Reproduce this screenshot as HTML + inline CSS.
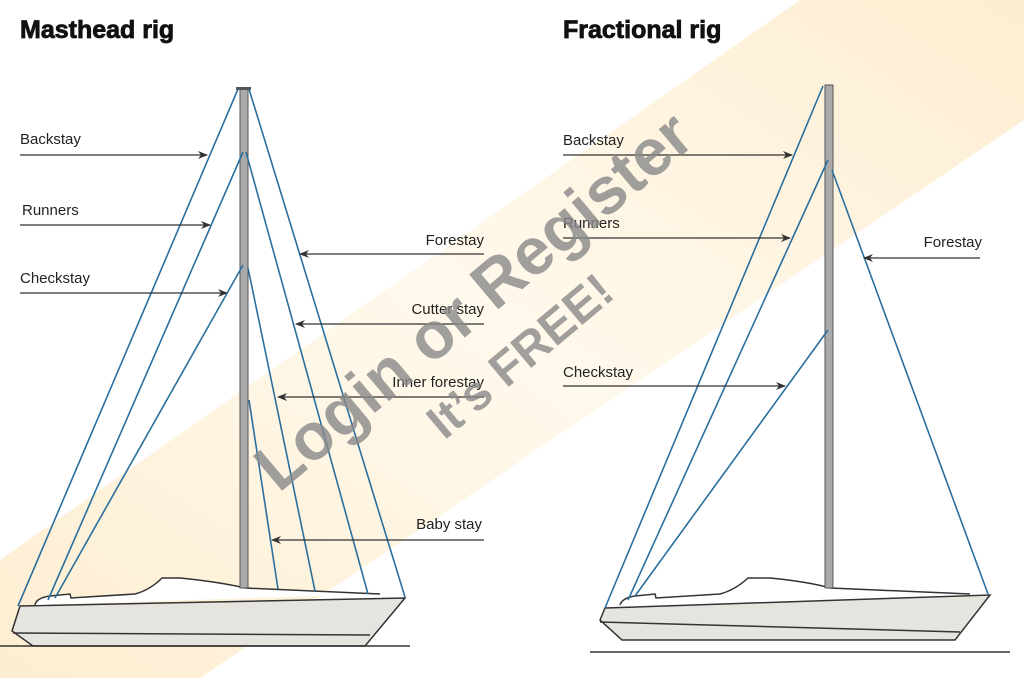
<!DOCTYPE html>
<html><head><meta charset="utf-8"><style>
html,body{margin:0;padding:0;background:#fff;}
body{width:1024px;height:678px;overflow:hidden;position:relative;font-family:"Liberation Sans",sans-serif;}
svg{position:absolute;left:0;top:0;}
</style></head><body>
<svg width="1024" height="678" viewBox="0 0 1024 678">
<defs>
<linearGradient id="band" x1="0" y1="1" x2="1" y2="0">
<stop offset="0" stop-color="#fdeccc"/><stop offset="0.5" stop-color="#fff8ea"/><stop offset="1" stop-color="#fdeccc"/>
</linearGradient>
<marker id="ah" markerWidth="10" markerHeight="8" refX="9" refY="4" orient="auto" markerUnits="userSpaceOnUse">
<path d="M0,0 L10,4 L0,8 L3,4 Z" fill="#333"/></marker>
</defs>
<!-- watermark band -->
<polygon points="0,560 0,678 200,678 1024,120 1024,0 800,0" fill="url(#band)" opacity="0.9"/>

<text x="20" y="38" font-size="25" font-weight="bold" fill="#111" stroke="#111" stroke-width="0.8">Masthead rig</text>
<text x="563" y="38" font-size="25" font-weight="bold" fill="#111" stroke="#111" stroke-width="0.8">Fractional rig</text>

<!-- LEFT BOAT -->
<g stroke="#333" stroke-width="1.5">
<path d="M20,606 L405,598 L365,646 L33,646 L12,631 Z" fill="#e6e4de"/>
<path d="M13,633 L370,635" fill="none"/>
<path d="M35,605 Q36,598 50,596 L70,594 L71,598 L135,594 Q150,590 162,578 L180,578 Q220,582 245,588 L380,594" fill="#fff"/>
<line x1="0" y1="646" x2="410" y2="646"/>
</g>
<rect x="240" y="88" width="8" height="500" fill="#aaa" stroke="#555" stroke-width="1"/>
<rect x="236" y="87" width="15" height="3" fill="#555"/>
<g stroke="#2a6f9e" stroke-width="1.6" fill="none">
<line x1="238" y1="89" x2="18" y2="606"/>
<line x1="243" y1="152" x2="48" y2="600"/>
<line x1="243" y1="265" x2="55" y2="598"/>
<line x1="249" y1="89" x2="405" y2="597"/>
<line x1="246" y1="152" x2="368" y2="594"/>
<line x1="248" y1="268" x2="315" y2="591"/>
<line x1="249" y1="400" x2="278" y2="589"/>
</g>
<g stroke="#333" stroke-width="1.3" marker-end="url(#ah)">
<line x1="20" y1="155" x2="207" y2="155"/>
<line x1="20" y1="225" x2="210" y2="225"/>
<line x1="20" y1="293" x2="227" y2="293"/>
<line x1="484" y1="254" x2="300" y2="254"/>
<line x1="484" y1="324" x2="296" y2="324"/>
<line x1="484" y1="397" x2="278" y2="397"/>
<line x1="484" y1="540" x2="272" y2="540"/>
</g>
<g font-size="15" fill="#222">
<text x="20" y="144">Backstay</text>
<text x="22" y="215">Runners</text>
<text x="20" y="283">Checkstay</text>
<text x="484" y="245" text-anchor="end">Forestay</text>
<text x="484" y="314" text-anchor="end">Cutter stay</text>
<text x="484" y="387" text-anchor="end">Inner forestay</text>
<text x="482" y="529" text-anchor="end">Baby stay</text>
</g>

<!-- RIGHT BOAT -->
<g stroke="#333" stroke-width="1.5">
<path d="M605,608 L990,595 L955,640 L622,640 L600,620 Z" fill="#e6e4de"/>
<path d="M600,622 L960,632" fill="none"/>
<path d="M620,605 Q622,598 635,596 L655,594 L656,598 L720,594 Q735,590 748,578 L770,578 Q810,582 830,588 L970,594" fill="#fff"/>
<line x1="590" y1="652" x2="1010" y2="652"/>
</g>
<rect x="825" y="85" width="8" height="503" fill="#aaa" stroke="#555" stroke-width="1"/>
<g stroke="#2a6f9e" stroke-width="1.6" fill="none">
<line x1="823" y1="86" x2="605" y2="608"/>
<line x1="828" y1="160" x2="628" y2="600"/>
<line x1="828" y1="330" x2="635" y2="596"/>
<line x1="832" y1="170" x2="988" y2="594"/>
</g>
<g stroke="#333" stroke-width="1.3" marker-end="url(#ah)">
<line x1="563" y1="155" x2="792" y2="155"/>
<line x1="563" y1="238" x2="790" y2="238"/>
<line x1="563" y1="386" x2="785" y2="386"/>
<line x1="980" y1="258" x2="864" y2="258"/>
</g>
<g font-size="15" fill="#222">
<text x="563" y="145">Backstay</text>
<text x="563" y="228">Runners</text>
<text x="563" y="377">Checkstay</text>
<text x="982" y="247" text-anchor="end">Forestay</text>
</g>

<!-- watermark text -->
<g transform="translate(488,318) rotate(-40)" fill="#888" fill-opacity="0.8" font-weight="bold" text-anchor="middle">
<text x="0" y="0" font-size="66">Login or Register</text>
<text x="0" y="66" font-size="48">It’s FREE!</text>
</g>
</svg>
</body></html>
